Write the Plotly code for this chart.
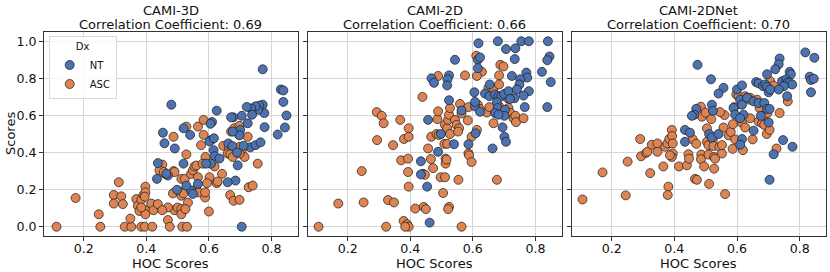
import plotly.graph_objects as go

# ---------------- data ----------------
TITLES = ["CAMI-3D", "CAMI-2D", "CAMI-2DNet"]
CORR = ["0.69", "0.66", "0.70"]
GROUPS = ["NT", "ASC"]
X_TICKS = [0.2, 0.4, 0.6, 0.8]
Y_TICKS = [0.0, 0.2, 0.4, 0.6, 0.8, 1.0]

# Panel 1: CAMI-3D
HOC_3D_NT = [0.772,0.830,0.838,0.838,0.848,0.843,0.820,0.778,0.777,0.772,0.761,0.757,0.749,0.735,0.738,0.721,0.724,0.705,0.678,0.671,0.625,0.700,0.698,0.676,0.732,0.749,0.765,0.711,0.692,0.685,0.660,0.705,0.607,0.602,0.616,0.615,0.618,0.634,0.607,0.591,0.540,0.519,0.491,0.458,0.453,0.480,0.519,0.469,0.464,0.543,0.528,0.549,0.498,0.565,0.437,0.434,0.610,0.605,0.662,0.675,0.690]
SC_3D_NT = [0.849,0.740,0.735,0.673,0.600,0.535,0.497,0.537,0.613,0.658,0.653,0.631,0.649,0.638,0.604,0.646,0.558,0.598,0.590,0.590,0.626,0.522,0.493,0.513,0.428,0.440,0.455,0.437,0.331,0.249,0.240,0.000,0.467,0.460,0.477,0.413,0.380,0.368,0.340,0.340,0.495,0.531,0.422,0.450,0.507,0.658,0.340,0.276,0.286,0.195,0.222,0.177,0.199,0.231,0.343,0.258,0.565,0.555,0.449,0.435,0.400]
HOC_3D_ASC = [0.113,0.174,0.248,0.253,0.312,0.296,0.296,0.320,0.325,0.331,0.352,0.349,0.368,0.373,0.378,0.384,0.391,0.384,0.395,0.419,0.397,0.397,0.395,0.397,0.397,0.384,0.416,0.423,0.437,0.451,0.442,0.460,0.456,0.487,0.487,0.490,0.485,0.490,0.500,0.469,0.451,0.469,0.475,0.512,0.512,0.515,0.530,0.506,0.512,0.519,0.512,0.523,0.528,0.528,0.533,0.525,0.565,0.575,0.543,0.549,0.554,0.560,0.565,0.560,0.567,0.589,0.588,0.588,0.600,0.602,0.594,0.580,0.583,0.583,0.618,0.625,0.642,0.628,0.646,0.664,0.660,0.668,0.676,0.671,0.690,0.697,0.681,0.698,0.668,0.679,0.698,0.714,0.708,0.698,0.724,0.727,0.740,0.756,0.698]
SC_3D_ASC = [0.000,0.155,0.067,0.000,0.240,0.171,0.125,0.164,0.122,0.000,0.000,0.044,0.149,0.113,0.085,0.145,0.171,0.000,0.000,0.000,0.216,0.185,0.162,0.089,0.067,0.104,0.125,0.089,0.122,0.335,0.304,0.285,0.295,0.485,0.300,0.295,0.180,0.089,0.104,0.104,0.089,0.036,0.000,0.095,0.067,0.000,0.000,0.190,0.167,0.180,0.258,0.258,0.390,0.540,0.130,0.095,0.540,0.440,0.285,0.304,0.325,0.330,0.267,0.204,0.185,0.376,0.158,0.185,0.082,0.267,0.235,0.340,0.495,0.576,0.325,0.235,0.285,0.244,0.436,0.422,0.395,0.391,0.376,0.513,0.513,0.495,0.531,0.544,0.171,0.140,0.145,0.376,0.422,0.395,0.485,0.213,0.222,0.340,0.431]

# Panel 2: CAMI-2D
HOC_2D_NT = [0.618,0.680,0.755,0.779,0.840,0.706,0.736,0.734,0.845,0.838,0.821,0.849,0.838,0.543,0.616,0.623,0.616,0.468,0.476,0.524,0.519,0.518,0.725,0.771,0.774,0.752,0.749,0.654,0.605,0.639,0.653,0.671,0.682,0.691,0.700,0.714,0.733,0.719,0.741,0.779,0.762,0.524,0.564,0.607,0.607,0.623,0.677,0.680,0.671,0.703,0.701,0.682,0.766,0.457,0.498,0.609,0.586,0.540,0.695,0.701,0.706,0.663,0.489,0.434,0.434,0.454,0.462]
SC_2D_NT = [0.989,1.000,1.000,1.000,1.000,0.958,0.962,0.904,0.918,0.898,0.835,0.780,0.645,0.900,0.900,0.913,0.855,0.800,0.776,0.816,0.795,0.762,0.813,0.831,0.804,0.795,0.767,0.767,0.725,0.718,0.704,0.713,0.704,0.704,0.716,0.731,0.693,0.689,0.740,0.731,0.707,0.682,0.627,0.649,0.673,0.620,0.671,0.640,0.613,0.631,0.598,0.604,0.645,0.576,0.500,0.504,0.445,0.445,0.536,0.485,0.458,0.422,0.404,0.353,0.282,0.216,0.022]
HOC_2D_ASC = [0.107,0.170,0.245,0.251,0.293,0.309,0.315,0.294,0.323,0.329,0.348,0.345,0.368,0.371,0.380,0.395,0.395,0.393,0.393,0.395,0.379,0.390,0.395,0.384,0.416,0.443,0.450,0.439,0.441,0.447,0.457,0.466,0.473,0.467,0.484,0.491,0.487,0.489,0.489,0.497,0.511,0.505,0.509,0.518,0.513,0.513,0.516,0.511,0.518,0.521,0.524,0.527,0.527,0.524,0.521,0.543,0.548,0.556,0.553,0.559,0.564,0.554,0.564,0.575,0.584,0.586,0.586,0.588,0.596,0.596,0.613,0.611,0.629,0.613,0.616,0.623,0.645,0.650,0.666,0.653,0.666,0.677,0.684,0.688,0.698,0.684,0.680,0.684,0.711,0.714,0.720,0.730,0.736,0.738,0.762]
SC_2D_ASC = [0.000,0.125,0.300,0.131,0.618,0.598,0.558,0.467,0.000,0.144,0.131,0.440,0.576,0.358,0.473,0.531,0.485,0.367,0.295,0.216,0.031,0.013,0.000,0.000,0.098,0.107,0.095,0.700,0.285,0.280,0.422,0.365,0.316,0.485,0.500,0.495,0.580,0.622,0.813,0.267,0.267,0.182,0.447,0.447,0.367,0.340,0.362,0.549,0.531,0.576,0.604,0.640,0.500,0.107,0.095,0.576,0.549,0.531,0.513,0.662,0.611,0.253,0.000,0.816,0.573,0.645,0.395,0.385,0.349,0.485,0.522,0.922,0.835,0.813,0.658,0.635,0.616,0.749,0.744,0.645,0.558,0.253,0.816,0.873,0.864,0.767,0.613,0.649,0.693,0.640,0.613,0.585,0.598,0.564,0.585]

# Panel 3: CAMI-2DNet
HOC_2N_NT = [0.818,0.847,0.736,0.733,0.722,0.696,0.768,0.772,0.474,0.517,0.557,0.541,0.600,0.616,0.661,0.669,0.683,0.690,0.696,0.744,0.757,0.762,0.768,0.776,0.750,0.733,0.701,0.706,0.832,0.836,0.845,0.836,0.760,0.610,0.632,0.616,0.653,0.669,0.687,0.520,0.523,0.470,0.464,0.456,0.589,0.594,0.621,0.610,0.676,0.696,0.704,0.434,0.450,0.434,0.511,0.520,0.541,0.616,0.610,0.653,0.701,0.747,0.717,0.777,0.704]
SC_2N_NT = [0.940,0.911,0.907,0.876,0.849,0.822,0.835,0.822,0.873,0.795,0.749,0.718,0.740,0.762,0.780,0.773,0.758,0.767,0.754,0.785,0.795,0.780,0.776,0.767,0.758,0.740,0.725,0.740,0.809,0.791,0.798,0.725,0.704,0.685,0.695,0.658,0.676,0.667,0.667,0.658,0.625,0.636,0.604,0.598,0.640,0.604,0.604,0.585,0.598,0.635,0.635,0.522,0.507,0.458,0.500,0.482,0.500,0.473,0.442,0.518,0.562,0.467,0.391,0.431,0.253]
HOC_2N_ASC = [0.107,0.171,0.245,0.251,0.291,0.294,0.310,0.314,0.323,0.328,0.346,0.346,0.365,0.371,0.378,0.384,0.381,0.379,0.392,0.393,0.395,0.395,0.392,0.386,0.415,0.440,0.445,0.447,0.459,0.466,0.472,0.470,0.485,0.488,0.486,0.485,0.495,0.500,0.504,0.504,0.509,0.509,0.511,0.518,0.523,0.525,0.527,0.527,0.530,0.544,0.552,0.552,0.557,0.560,0.546,0.562,0.573,0.580,0.587,0.586,0.594,0.591,0.598,0.605,0.616,0.619,0.626,0.626,0.632,0.642,0.640,0.642,0.650,0.664,0.672,0.683,0.669,0.680,0.687,0.697,0.695,0.704,0.706,0.717,0.736,0.726,0.762]
SC_2N_ASC = [0.147,0.293,0.169,0.351,0.473,0.380,0.398,0.404,0.289,0.442,0.449,0.404,0.325,0.431,0.449,0.473,0.216,0.171,0.522,0.489,0.449,0.395,0.376,0.385,0.325,0.331,0.391,0.367,0.471,0.258,0.253,0.447,0.647,0.593,0.389,0.364,0.325,0.615,0.531,0.458,0.440,0.389,0.231,0.580,0.471,0.435,0.376,0.313,0.367,0.431,0.395,0.440,0.535,0.602,0.618,0.176,0.493,0.511,0.553,0.420,0.471,0.645,0.713,0.704,0.560,0.413,0.535,0.704,0.695,0.695,0.685,0.585,0.471,0.685,0.640,0.595,0.567,0.558,0.549,0.613,0.500,0.522,0.785,0.760,0.613,0.422,0.676]

PANELS = [
    (HOC_3D_NT, SC_3D_NT, HOC_3D_ASC, SC_3D_ASC),
    (HOC_2D_NT, SC_2D_NT, HOC_2D_ASC, SC_2D_ASC),
    (HOC_2N_NT, SC_2N_NT, HOC_2N_ASC, SC_2N_ASC),
]

# ---------------- style ----------------
FONT = "DejaVu Sans"
COL = {"NT": "#4C72B0", "ASC": "#DD8452"}
GRID = "#d6d6d6"
SPINE = "#333333"
DOMAINS = [[0.0, 0.3245], [0.3375, 0.662], [0.675, 1.0]]
XR = [0.073, 0.884]
YR = [-0.05, 1.05]
TXT = 13.0
TICK = 12.6

fig = go.Figure()
for i, (xn, yn, xa, ya) in enumerate(PANELS):
    ax = "" if i == 0 else str(i + 1)
    fig.add_trace(go.Scatter(
        x=xa, y=ya, mode="markers", name="ASC", legendrank=2,
        showlegend=(i == 0), xaxis="x" + ax, yaxis="y" + ax,
        marker=dict(size=9, color=COL["ASC"], line=dict(color="#1a1a1a", width=0.7))))
    fig.add_trace(go.Scatter(
        x=xn, y=yn, mode="markers", name="NT", legendrank=1,
        showlegend=(i == 0), xaxis="x" + ax, yaxis="y" + ax,
        marker=dict(size=9, color=COL["NT"], line=dict(color="#1a1a1a", width=0.7))))

axis_common = dict(showline=True, mirror=True, linecolor=SPINE, linewidth=1,
                   showgrid=True, gridcolor=GRID, gridwidth=1, zeroline=False,
                   ticks="outside", ticklen=4, tickcolor=SPINE, tickwidth=1,
                   tickfont=dict(family=FONT, size=TICK, color="#111"))

layout = dict(
    width=830, height=272,
    margin=dict(l=44, r=4, t=32, b=36),
    plot_bgcolor="white", paper_bgcolor="white",
    font=dict(family=FONT, color="#111"),
    legend=dict(title=dict(text="Dx", side="top center", font=dict(size=10, family=FONT)),
                x=0.006, y=0.978, xanchor="left", yanchor="top",
                bgcolor="rgba(255,255,255,0.85)", bordercolor="#d9d9d9", borderwidth=1,
                font=dict(size=10, family=FONT), itemwidth=30, tracegroupgap=0),
)
annotations = []
for i in range(3):
    ax = "" if i == 0 else str(i + 1)
    layout["xaxis" + ax] = dict(domain=DOMAINS[i], range=XR, tickvals=X_TICKS,
                                ticktext=[f"{v:.1f}" for v in X_TICKS],
                                anchor="y" + ax, ticklabelstandoff=-3, **axis_common)
    yd = dict(domain=[0, 1], range=YR, tickvals=Y_TICKS,
              ticktext=[f"{v:.1f}" for v in Y_TICKS], anchor="x" + ax, **axis_common)
    if i > 0:
        yd["showticklabels"] = False
        yd["matches"] = "y"
    layout["yaxis" + ax] = yd
    cx = (DOMAINS[i][0] + DOMAINS[i][1]) / 2
    annotations.append(dict(text=TITLES[i], x=cx, y=1, xref="paper", yref="paper",
                            xanchor="center", yanchor="middle", yshift=22, showarrow=False,
                            font=dict(family=FONT, size=TXT, color="#111")))
    annotations.append(dict(text="Correlation Coefficient: " + CORR[i], x=cx, y=1,
                            xref="paper", yref="paper", xanchor="center", yanchor="middle",
                            yshift=7.5, showarrow=False,
                            font=dict(family=FONT, size=TXT, color="#111")))
    annotations.append(dict(text="HOC Scores", x=cx, y=0, xref="paper", yref="paper",
                            xanchor="center", yanchor="middle", yshift=-27, showarrow=False,
                            font=dict(family=FONT, size=TXT, color="#111")))
annotations.append(dict(text="Scores", x=0, y=0.5, xref="paper", yref="paper",
                        xanchor="center", yanchor="middle", xshift=-34, textangle=-90,
                        showarrow=False, font=dict(family=FONT, size=TXT, color="#111")))
layout["annotations"] = annotations
fig.update_layout(**layout)

fig.write_html("out.html", config={"displayModeBar": False},
               post_script="document.body.style.margin='0px';")
